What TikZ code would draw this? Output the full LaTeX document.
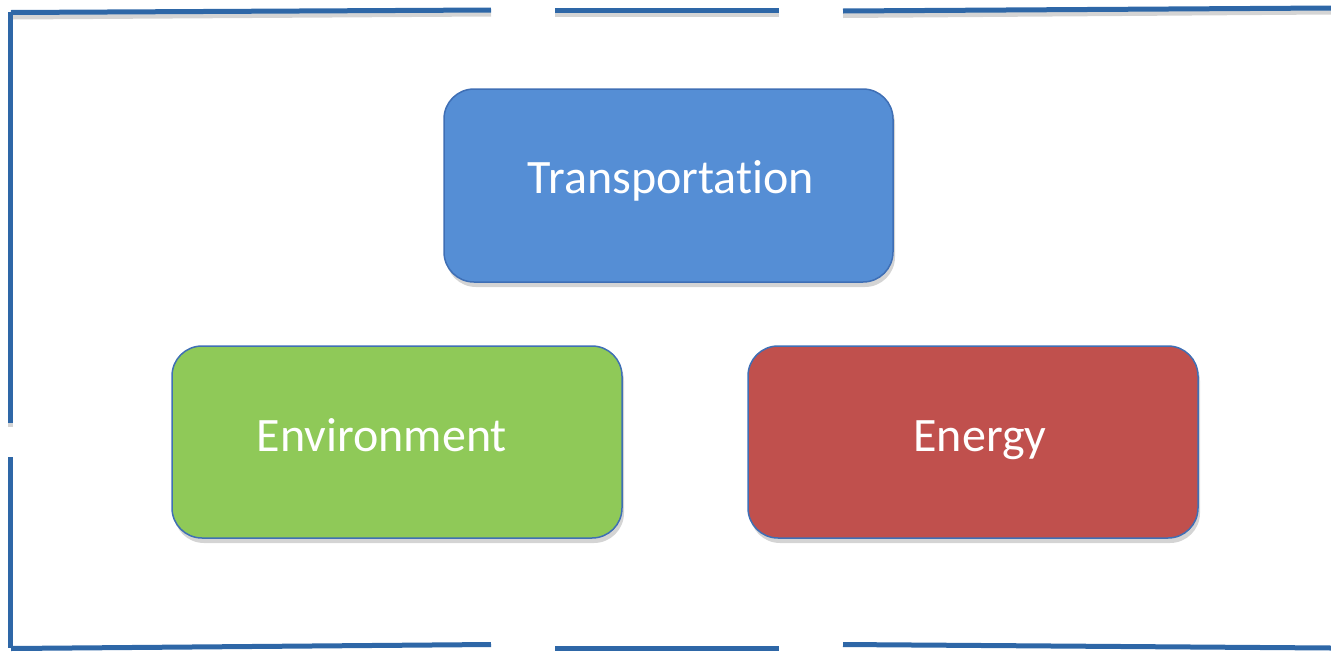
\documentclass[tikz,border=0pt]{standalone}
\usepackage{fontspec}
\setmainfont{Carlito}[Ligatures=NoCommon]
\definecolor{framebl}{HTML}{2E67A7}
\definecolor{shadowgr}{HTML}{D4D4D4}
\definecolor{boxline}{HTML}{3F6FB5}
\definecolor{bluefill}{HTML}{558ED5}
\definecolor{greenfill}{HTML}{8FC958}
\definecolor{redfill}{HTML}{C0504D}
\tikzset{
  frameline/.style={draw=framebl, line width=5pt},
  frameshadow/.style={draw=shadowgr, line width=5pt},
  card/.style={draw=boxline, line width=1.5pt, rounded corners=30pt},
  cardshadow/.style={fill=shadowgr, rounded corners=30pt},
  cardtext/.style={text=white, font=\fontsize{48}{52}\selectfont, anchor=base, inner sep=0pt}
}
\begin{document}
\begin{tikzpicture}[x=1pt,y=-1pt]
\useasboundingbox (0,0) rectangle (1331,651);
% frame shadows
\draw[frameshadow] (13,17) -- (491,14);
\draw[frameshadow] (555,14.5) -- (779,14.5);
\draw[frameshadow] (843,15.5) -- (1331,12);
\draw[frameshadow] (10,17) -- (10,427);
% frame lines
\draw[frameline] (11,12.5) -- (491,10);
\draw[frameline] (555,10.5) -- (779,10.5);
\draw[frameline] (843,11) -- (1331,8);
\draw[frameline] (10,12) -- (10,423);
\draw[frameline] (10,457) -- (10,648);
\draw[frameline] (11,648.5) -- (491,644.5);
\draw[frameline] (555,648.5) -- (779,648.5);
\draw[frameline] (843,644.5) -- (1331,648);
% card shadows
\path[cardshadow] (446,94) rectangle (895,287);
\path[cardshadow] (174,351) rectangle (624,543);
\path[cardshadow] (750,351) rectangle (1200,543);
% cards
\draw[card, fill=bluefill] (444,89) rectangle (893,282);
\draw[card, fill=greenfill] (172,346) rectangle (622,538);
\draw[card, fill=redfill] (748,346) rectangle (1198,538);
\node[cardtext] (transport) at (671,193) {Transportation};
\node[cardtext] (environment) at (382,451) {Environment};
\node[cardtext] (energy) at (980,451) {Energy};
\end{tikzpicture}
\end{document}
